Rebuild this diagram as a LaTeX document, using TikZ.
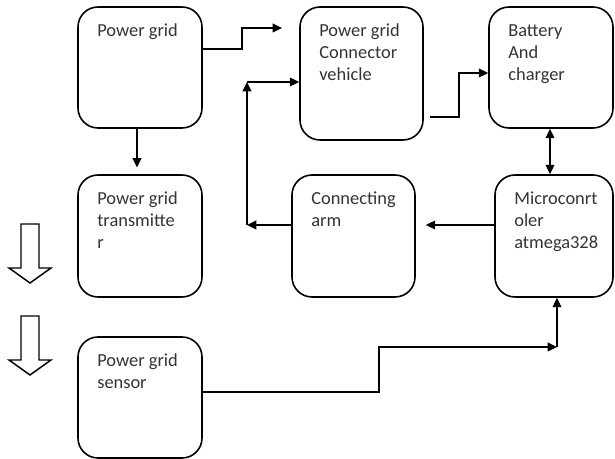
\documentclass[tikz,border=0pt]{standalone}
\usepackage{fontspec}
\setmainfont{Carlito}
\usetikzlibrary{arrows.meta}

\newcommand{\blocktext}[3]{\parbox[t][#1][t]{#2}{\raggedright\hyphenpenalty=10000\strut #3}}

\begin{document}
\begin{tikzpicture}[x=0.75pt, y=-0.75pt,
  font=\fontsize{13.8pt}{16.3pt}\selectfont,
  blk/.style={draw, line width=1.2pt, text=black!80, rounded corners=15pt, inner xsep=14.5pt, inner ysep=11pt},
  conn/.style={line width=1.1pt, -{Triangle[length=7pt,width=6.5pt]}},
  both/.style={line width=1.1pt, {Triangle[length=7pt,width=6.5pt]}-{Triangle[length=7pt,width=6.5pt]}}]

  \useasboundingbox (0,0) rectangle (615,459);

  % left column
  \node[blk] (pg) at (140,67.5) {\blocktext{68.75pt}{64pt}{Power grid}};
  \node[blk] (pgt) at (140,236) {\blocktext{69.5pt}{64pt}{Power grid\\ transmitte\\ r}};
  \node[blk] (pgs) at (140,397.5) {\blocktext{68.75pt}{64pt}{Power grid\\ sensor}};

  % middle column
  \node[blk] (pgc) at (361.5,73.5) {\blocktext{77.75pt}{63.25pt}{Power grid\\ Connector\\ vehicle}};
  \node[blk] (arm) at (353.5,236) {\blocktext{69.5pt}{63.25pt}{Connecting\\ arm}};

  % right column
  \node[blk] (bat) at (551,67.5) {\blocktext{68.75pt}{64pt}{Battery\\ And\\ charger}};
  \node[blk] (mcu) at (554,236) {\blocktext{69.5pt}{59.5pt}{Microconrt\\ oler\\ atmega328}};

  % connectors
  \coordinate (pgcin) at (282,28);
  \draw[conn] (pg.east |- 0,49) -- (242,49) |- (pgcin);
  \draw[conn, shorten >=5pt] (pg.south -| 137,0) -- (pgt.north -| 137,0);
  \draw[conn, shorten <=4.5pt] (pgc.east |- 0,117) -- (459,117) |- (bat.west |- 0,73);
  \draw[both] (bat.south -| 550,0) -- (mcu.north -| 550,0);
  \draw[conn, shorten >=7.5pt] (mcu.west |- 0,225) -- (arm.east |- 0,225);

  \coordinate (armc) at (247,225);
  \coordinate (pgcc) at (247,82);
  \draw[conn] (arm.west |- armc) -- (armc);
  \draw[conn] (armc) -- (pgcc);
  \draw[conn] (pgcc) -- (pgc.west |- pgcc);

  \coordinate (mcuc) at (557,347);
  \draw[conn] (pgs.east |- 0,392) -- (379,392) |- (mcuc);
  \draw[conn] (mcuc) -- (mcu.south -| mcuc);

  % hollow arrows
  \foreach \t in {224,316}
    \draw[line width=1.1pt] (21,\t) -- (39,\t) -- (39,\t+44) -- (51,\t+44) -- (30,\t+59) -- (9,\t+44) -- (21,\t+44) -- cycle;
\end{tikzpicture}
\end{document}
